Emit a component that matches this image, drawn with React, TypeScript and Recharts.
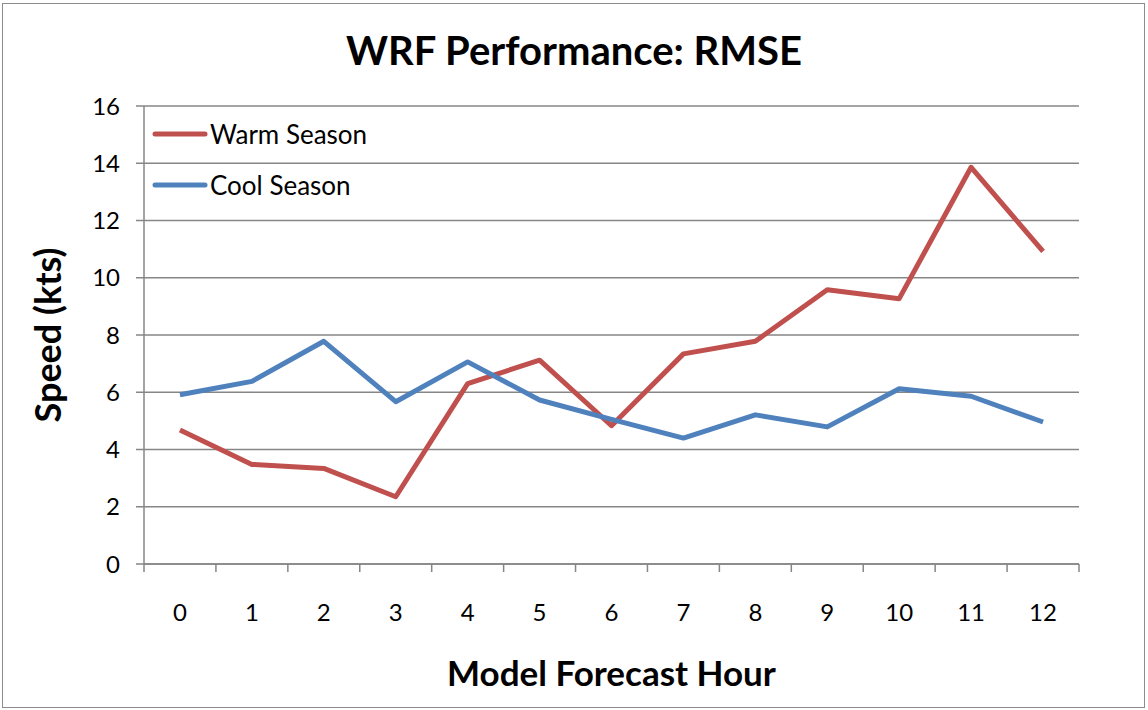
import React from 'react';
import { LineChart, Line, XAxis, YAxis, CartesianGrid, Legend, Label } from 'recharts';

const hours = [0, 1, 2, 3, 4, 5, 6, 7, 8, 9, 10, 11, 12];
const warmSeason = [4.68, 3.48, 3.34, 2.35, 6.3, 7.12, 4.83, 7.34, 7.78, 9.58, 9.27, 13.86, 10.92];
const coolSeason = [5.91, 6.38, 7.78, 5.67, 7.06, 5.73, 5.05, 4.4, 5.21, 4.79, 6.12, 5.86, 4.96];
const yTicks = [0, 2, 4, 6, 8, 10, 12, 14, 16];
const boundaryTicks = [-0.5, 0.5, 1.5, 2.5, 3.5, 4.5, 5.5, 6.5, 7.5, 8.5, 9.5, 10.5, 11.5, 12.5];
const seriesOrder = ['Warm Season', 'Cool Season'];

const data = hours.map((h, i) => ({ hour: h, warm: warmSeason[i], cool: coolSeason[i] }));

const FONT = "Lato, 'Open Sans', sans-serif";
const AXIS_GRAY = '#868686';
const WARM = '#C0504D';
const COOL = '#4F81BD';

const renderLegend = (props: any) => {
  const payload = [...(props.payload || [])].sort(
    (a: any, b: any) => seriesOrder.indexOf(a.value) - seriesOrder.indexOf(b.value)
  );
  return (
    <div style={{ fontFamily: FONT }}>
      {payload.map((p: any) => (
        <div key={p.value} style={{ display: 'flex', alignItems: 'center', height: 51 }}>
          <svg width={56} height={10} style={{ display: 'block' }}>
            <line x1={3} y1={5} x2={53} y2={5} stroke={p.color} strokeWidth={5} strokeLinecap="round" />
          </svg>
          <span style={{ fontSize: 26, color: '#000', marginLeft: 2 }}>{p.value}</span>
        </div>
      ))}
    </div>
  );
};

export default function App() {
  return (
    <div style={{ position: 'absolute', left: 0, top: 0, width: 1148, height: 710, background: '#fff' }}>
      <div
        style={{
          position: 'absolute', left: 2, top: 3, width: 1141, height: 703,
          border: '1px solid #8c8c8c', boxSizing: 'content-box', pointerEvents: 'none',
        }}
      />
      <div
        style={{
          position: 'absolute', left: 0, top: 24, width: 1148, textAlign: 'center',
          fontFamily: FONT, fontWeight: 700, fontSize: 40, color: '#000', lineHeight: '52px',
        }}
      >
        WRF Performance: RMSE
      </div>
      <LineChart
        width={1148}
        height={710}
        data={data}
        margin={{ top: 106, right: 69, bottom: 0, left: 0 }}
      >
        <CartesianGrid vertical={false} stroke={AXIS_GRAY} strokeWidth={1.5} />
        <XAxis
          type="number"
          dataKey="hour"
          domain={[-0.5, 12.5]}
          ticks={boundaryTicks}
          interval={0}
          height={8}
          tickSize={8}
          tickFormatter={() => ''}
          stroke={AXIS_GRAY}
          strokeWidth={1.5}
          tickLine={{ stroke: AXIS_GRAY, strokeWidth: 1.5 }}
        />
        <XAxis
          xAxisId="labels"
          type="number"
          dataKey="hour"
          domain={[-0.5, 12.5]}
          ticks={hours}
          interval={0}
          height={138}
          axisLine={false}
          tickLine={false}
          tickSize={0}
          tickMargin={32}
          tick={{ fill: '#000', fontSize: 24, fontFamily: FONT }}
        >
          <Label
            value="Model Forecast Hour"
            position="insideBottom"
            offset={24}
            style={{ fill: '#000', fontSize: 35, fontWeight: 700, fontFamily: FONT }}
          />
        </XAxis>
        <YAxis
          domain={[0, 16]}
          ticks={yTicks}
          interval={0}
          width={144}
          tickSize={8}
          tickMargin={16}
          stroke={AXIS_GRAY}
          strokeWidth={1.5}
          tick={{ fill: '#000', fontSize: 24, fontFamily: FONT }}
          tickLine={{ stroke: AXIS_GRAY, strokeWidth: 1.5 }}
        >
          <Label
            value="Speed (kts)"
            angle={-90}
            position="insideLeft"
            offset={48}
            style={{ textAnchor: 'middle', fill: '#000', fontSize: 36, fontWeight: 700, fontFamily: FONT }}
          />
        </YAxis>
        <Legend
          layout="vertical"
          align="center"
          verticalAlign="middle"
          content={renderLegend}
          wrapperStyle={{ left: 152, top: 108, width: 300 }}
        />
        <Line
          type="linear"
          dataKey="warm"
          name="Warm Season"
          stroke={WARM}
          strokeWidth={5}
          dot={false}
          activeDot={false}
          strokeLinejoin="round"
          isAnimationActive={false}
        />
        <Line
          type="linear"
          dataKey="cool"
          name="Cool Season"
          stroke={COOL}
          strokeWidth={5}
          dot={false}
          activeDot={false}
          strokeLinejoin="round"
          isAnimationActive={false}
        />
      </LineChart>
    </div>
  );
}
